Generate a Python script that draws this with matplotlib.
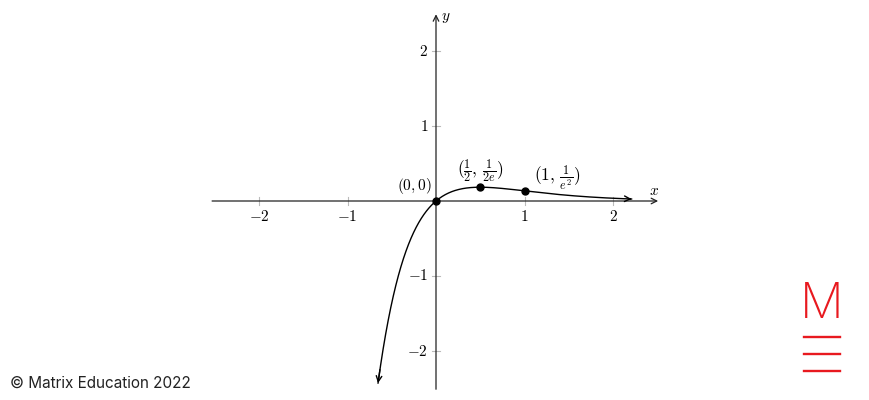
import numpy as np
import matplotlib.pyplot as plt

plt.rcParams['mathtext.fontset'] = 'cm'

# curve y = x e^{-2x}, drawn between these x limits
x_start, x_end = -0.655, 2.21
# marked points and their labels
pts_x = [0, 0.5, 1]
pts_y = [0, 0.5 / np.e, np.exp(-2)]
pts_lab = [r'$(0,0)$', r'$(\frac{1}{2},\,\frac{1}{2e})$', r'$(1,\,\frac{1}{e^2})$']
xticks = [-2, -1, 1, 2]
yticks = [-2, -1, 1, 2]

W, H = 870, 400
fig = plt.figure(figsize=(8.7, 4.0), dpi=100)
ax = fig.add_axes([0, 0, 1, 1])
# pixel mapping: x=0 -> 436px, 88.5 px/unit ; y=0 -> 201px, 75 px/unit
ax.set_xlim(-436 / 88.5, (W - 436) / 88.5)
ax.set_ylim((201 - H) / 75, 201 / 75)
ax.axis('off')

# axes with arrows
ax.annotate('', xy=(2.51, 0), xytext=(-2.53, 0),
            arrowprops=dict(arrowstyle='->', lw=0.9, color='#222222', shrinkA=0, shrinkB=0))
ax.annotate('', xy=(0, 2.49), xytext=(0, -2.51),
            arrowprops=dict(arrowstyle='->', lw=0.9, color='#222222', shrinkA=0, shrinkB=0))
ax.text(2.46, 0.04, r'$x$', fontsize=11, ha='center', va='bottom')
ax.text(0.06, 2.45, r'$y$', fontsize=11, ha='left', va='center')

for t in xticks:
    ax.plot([t, t], [-0.05, 0.05], color='#bbbbbb', lw=0.8)
    ax.text(t, -0.1, r'$%d$' % t, fontsize=11, ha='center', va='top')
for t in yticks:
    ax.plot([-0.05, 0.05], [t, t], color='#bbbbbb', lw=0.8)
    ax.text(-0.09, t, r'$%d$' % t, fontsize=11, ha='right', va='center')

xs = np.linspace(x_start, x_end, 400)
ys = xs * np.exp(-2 * xs)
ax.plot(xs, ys, color='black', lw=1.0)
ax.annotate('', xy=(xs[0], ys[0]), xytext=(xs[3], ys[3]),
            arrowprops=dict(arrowstyle='->', lw=1.0, color='black', shrinkA=0, shrinkB=0))
ax.annotate('', xy=(xs[-1], ys[-1]), xytext=(xs[-4], ys[-4]),
            arrowprops=dict(arrowstyle='->', lw=1.0, color='black', shrinkA=0, shrinkB=0))

ax.plot(pts_x, pts_y, 'o', color='black', ms=5, zorder=5)
ax.text(-0.25, 0.2, pts_lab[0], fontsize=11, ha='center', va='center')
ax.text(0.5, 0.39, pts_lab[1], fontsize=12.5, ha='center', va='center')
ax.text(1.37, 0.31, pts_lab[2], fontsize=12.5, ha='center', va='center')

fig.text(10 / W, 1 - 383 / H, '© Matrix Education 2022', fontsize=11,
         family='Inter', color='#222222', ha='left', va='center')

# logo
red = '#e8191f'
fig.text(822 / W, 1 - 305 / H, 'M', fontsize=35, family='Inter', color=red,
         ha='center', va='center', fontweight='light')
for yy in [337, 354, 371]:
    fig.add_artist(plt.Line2D([804 / W, 840 / W], [1 - yy / H, 1 - yy / H], color=red, lw=1.7))

fig.savefig('out.png', dpi=100)
